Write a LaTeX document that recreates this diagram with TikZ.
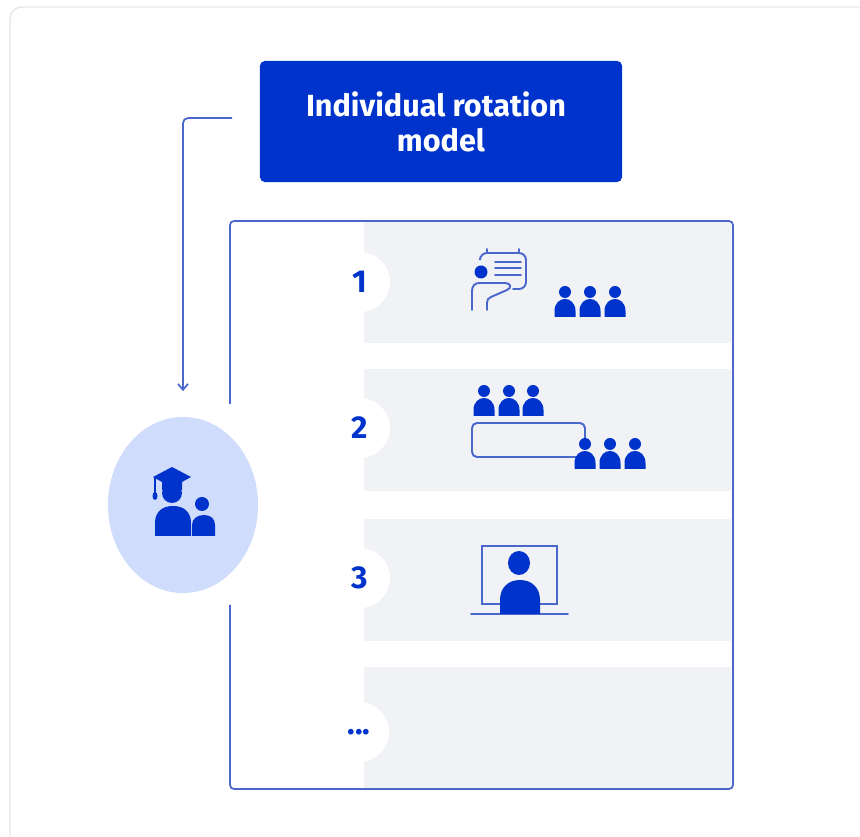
\documentclass[tikz,border=0pt]{standalone}
\usepackage{fontspec}
\setmainfont{Fira Sans}
\usetikzlibrary{shapes.geometric,arrows.meta}
\definecolor{royal}{HTML}{0033CC}
\definecolor{rail}{HTML}{4A68CC}
\definecolor{band}{HTML}{F0F2F6}
\definecolor{bubble}{HTML}{D0DCFB}
\definecolor{cardline}{HTML}{E6E6E8}
\tikzset{
  rowband/.style={fill=band,minimum width=3.67cm,minimum height=1.22cm,inner sep=0pt},
  numdisc/.style={circle,fill=white,minimum size=0.6cm,inner sep=0pt,text=royal,font=\bfseries\fontsize{9}{10}\selectfont},
  railline/.style={draw=rail,line width=0.5pt},
  iconline/.style={draw=rail,line width=0.55pt,line cap=round,rounded corners=0.05cm},
  pupil/.pic={
    \fill[royal] (0,-25) circle [radius=6];
    \fill[royal] (-10.5,0) -- (-10.5,-6) .. controls (-10.5,-14) and (-5,-18) .. (0,-18)
      .. controls (5,-18) and (10.5,-14) .. (10.5,-6) -- (10.5,0) -- cycle;
  }
}
\begin{document}
\begin{tikzpicture}[x=0.01cm,y=-0.01cm]
\useasboundingbox (0,0) rectangle (860,837);
\draw[cardline,line width=0.4pt,rounded corners=0.12cm] (10,837) -- (10,7) -- (870,7);
% top box and the line to the student
\node[fill=royal,rounded corners=0.05cm,minimum width=3.62cm,minimum height=1.21cm,inner sep=0pt,
  text=white,align=center,font=\bfseries\fontsize{8.7}{9.9}\selectfont] (title) at (441,121.5) {\hspace*{-0.1cm}Individual rotation\\model};
\node[ellipse,fill=bubble,minimum width=1.5cm,minimum height=1.76cm,inner sep=0pt] (student) at (183,505) {};
\coordinate (railstart) at (232,118);
\draw[railline,rounded corners=0.05cm,-{Straight Barb[length=0.06cm,width=0.1cm]},shorten >=0.25cm] (railstart) -| (student.north);
% frame, open where the student sits
\foreach \y/\n in {282/1,430/2,580/3,728/4}
  \node[rowband] (row\n) at (547.5,\y) {};
\draw[railline,rounded corners=0.04cm] (230,404) -- (230,221) -- (733,221) -- (733,789) -- (230,789) -- (230,605);
\node[numdisc] (num1) at (360,282) {1};
\node[numdisc] (num2) at (360,428) {2};
\node[numdisc] (num3) at (360,578) {3};
\node[numdisc] (num4) at (359,732) {...};
% row 1
\foreach \x in {565,590,615}
  \pic at (\x,317) {pupil};
\fill[royal] (481,272) circle [radius=6.5];
\foreach \y in {262,268,275}
  \draw[iconline] (495,\y) -- (521,\y);
\draw[iconline,rounded corners=0.07cm] (480,258) -- (480,253) -- (526,253) -- (526,289) -- (513,289);
\draw[iconline] (487,249) -- (487,253) (519,249) -- (519,253);
\draw[iconline,rounded corners=0pt] (472,310) -- (472,291) .. controls (472,286) and (475,283) .. (479,283) -- (505,283)
  .. controls (511,283) and (512,288) .. (507,290) -- (491,297) .. controls (488,298) and (487,300) .. (487,303) -- (487,310);
% row 2
\foreach \x in {484,509,533}
  \pic at (\x,416) {pupil};
\draw[iconline] (585,440) -- (585,423) -- (472,423) -- (472,457) -- (577,457);
\foreach \x in {585,610,635}
  \pic at (\x,469) {pupil};
% row 3
\draw[rail,line width=0.5pt] (482,546) rectangle (557,604);
\draw[iconline] (471,614) -- (568,614);
\fill[royal] (519,563) ellipse [x radius=11,y radius=12];
\fill[royal] (500,614) -- (500,600) .. controls (500,588) and (508,580) .. (520,580)
  .. controls (532,580) and (540,588) .. (540,600) -- (540,614) -- cycle;
% student icon
\fill[royal] (172,493) circle [radius=10];
\fill[royal] (153,477) -- (172,467) -- (191,477) -- (182,482) -- (182,490) -- (162,490) -- (162,482) -- cycle;
\draw[royal,line width=0.45pt] (155,478) -- (155,494);
\fill[royal] (155,496) ellipse [x radius=2.5,y radius=4];
\fill[royal] (155,536) -- (155,523) .. controls (155,512) and (162,506) .. (173,506)
  .. controls (184,506) and (191,512) .. (191,523) -- (191,536) -- cycle;
\fill[royal] (202,504) circle [radius=7];
\fill[royal] (192,536) -- (192,525) .. controls (192,519) and (197,515) .. (204,515)
  .. controls (211,515) and (215,519) .. (215,525) -- (215,536) -- cycle;
\end{tikzpicture}
\end{document}
